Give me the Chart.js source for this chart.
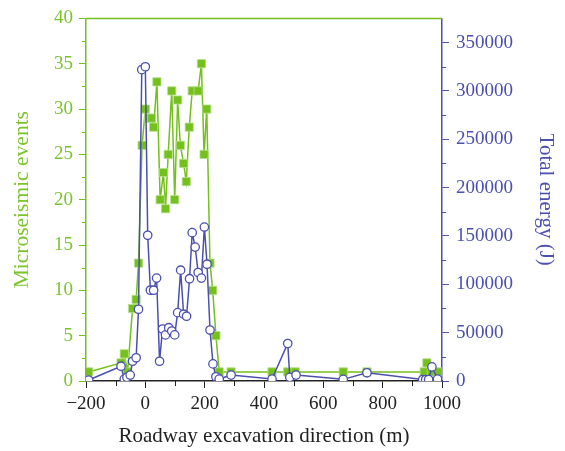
<!DOCTYPE html>
<html>
<head>
<meta charset="utf-8">
<script src="https://cdn.jsdelivr.net/npm/chart.js@4"></script>
<style>
html,body{margin:0;padding:0;background:#fff;}
#wrap{width:565px;height:451px;position:relative;}
</style>
</head>
<body>
<div id="wrap"><canvas id="c" width="565" height="451"></canvas></div>
<script>
// Microseismic events (left axis)
const eventsX = [-191, -82, -71, -60, -43, -31, -23, -11, 0, 11, 21, 28, 39, 50, 61, 68, 77, 89, 99, 109, 118, 129, 138, 148, 158, 178, 189, 198, 207, 218, 227, 238, 249, 289, 427, 480, 505, 667, 747, 940, 949, 964, 987];
const eventsY = [1, 2, 3, 1, 8, 9, 13, 26, 30, 29, 29, 28, 33, 20, 23, 19, 25, 32, 20, 31, 26, 24, 22, 28, 32, 32, 35, 25, 30, 13, 10, 5, 1, 1, 1, 1, 1, 1, 1, 1, 2, 1, 1];
// Total energy in J (right axis)
const energyX = [-191, -82, -71, -62, -51, -43, -31, -23, -12, 0, 8, 17, 28, 38, 48, 58, 68, 79, 89, 99, 109, 119, 129, 139, 149, 158, 168, 178, 189, 199, 208, 218, 228, 238, 249, 289, 427, 480, 487, 508, 667, 747, 935, 945, 955, 966, 985];
const energyY = [1000, 15300, 2000, 3800, 6100, 20400, 24000, 74200, 322000, 325000, 150700, 93900, 93900, 106400, 20400, 53800, 47700, 55100, 51700, 47700, 70700, 114600, 69100, 67000, 105800, 153400, 138500, 112200, 106400, 159200, 120700, 52700, 17700, 4400, 2000, 6100, 2000, 38800, 3800, 6100, 1700, 8500, 1500, 1500, 1500, 14600, 2000];
// Axis ticks
const xTicks = [-200, 0, 200, 400, 600, 800, 1000];
const leftTicks = [0, 5, 10, 15, 20, 25, 30, 35, 40];
const rightTicks = [0, 50000, 100000, 150000, 200000, 250000, 300000, 350000];

const GREEN = '#74c01c';
const GREEN_TXT = '#7cc42c';
const BLUE = '#4b4fae';
const FONT = "'Liberation Serif', 'DejaVu Serif', serif";

const toPts = (xs, ys) => xs.map((x, i) => ({x: x, y: ys[i]}));

const minorTicks = {
  id: 'minorTicks',
  afterDraw(chart) {
    const ctx = chart.ctx;
    const a = chart.chartArea;
    ctx.save();
    ctx.strokeStyle = GREEN;
    ctx.lineWidth = 1.5;
    ctx.beginPath();
    ctx.moveTo(a.left, a.top);
    ctx.lineTo(a.right, a.top);
    ctx.stroke();
    ctx.lineWidth = 1;
    const sx = chart.scales.x, sl = chart.scales.y, sr = chart.scales.y1;
    ctx.strokeStyle = '#222';
    for (let v = -100; v < 1000; v += 200) {
      const p = Math.round(sx.getPixelForValue(v)) + 0.5;
      ctx.beginPath(); ctx.moveTo(p, a.bottom); ctx.lineTo(p, a.bottom + 5); ctx.stroke();
    }
    ctx.strokeStyle = GREEN;
    for (let v = 2.5; v < 40; v += 5) {
      const p = Math.round(sl.getPixelForValue(v)) + 0.5;
      ctx.beginPath(); ctx.moveTo(a.left, p); ctx.lineTo(a.left - 4, p); ctx.stroke();
    }
    ctx.strokeStyle = BLUE;
    for (let v = 25000; v < 375000; v += 50000) {
      const p = Math.round(sr.getPixelForValue(v)) + 0.5;
      ctx.beginPath(); ctx.moveTo(a.right, p); ctx.lineTo(a.right + 4, p); ctx.stroke();
    }
    ctx.restore();
  }
};

new Chart(document.getElementById('c'), {
  type: 'scatter',
  data: {
    datasets: [
      {
        label: 'Total energy (J)',
        data: toPts(energyX, energyY),
        yAxisID: 'y1',
        showLine: true,
        borderColor: BLUE,
        borderWidth: 1.5,
        pointStyle: 'circle',
        pointRadius: 4.2,
        pointBorderWidth: 1.3,
        pointBorderColor: BLUE,
        pointBackgroundColor: '#ffffff',
        order: 0
      },
      {
        label: 'Microseismic events',
        data: toPts(eventsX, eventsY),
        yAxisID: 'y',
        showLine: true,
        borderColor: GREEN,
        borderWidth: 1.5,
        pointStyle: 'rect',
        pointRadius: 5.8,
        pointBorderWidth: 0.8,
        pointBorderColor: '#b6e08a',
        pointBackgroundColor: GREEN,
        order: 1
      }
    ]
  },
  options: {
    responsive: false,
    animation: false,
    devicePixelRatio: 1,
    layout: {padding: {top: 15, left: 0, right: 0, bottom: 0}},
    plugins: {legend: {display: false}, tooltip: {enabled: false}},
    scales: {
      x: {
        type: 'linear', position: 'bottom', min: -200, max: 1000,
        afterBuildTicks: s => { s.ticks = xTicks.map(v => ({value: v})); },
        afterFit: s => { s.height = 70; },
        border: {color: '#222', width: 1.5},
        grid: {drawOnChartArea: false, tickLength: 7, tickColor: '#222'},
        ticks: {color: '#222', padding: 5, maxRotation: 0, autoSkip: false,
          font: {family: FONT, size: 19},
          callback: v => String(v).replace('-', '\u2212')},
        title: {display: true, text: 'Roadway excavation direction (m)', color: '#222',
          font: {family: FONT, size: 21}, padding: {top: 0, bottom: 2}}
      },
      y: {
        type: 'linear', position: 'left', min: 0, max: 40,
        afterBuildTicks: s => { s.ticks = leftTicks.map(v => ({value: v})); },
        afterFit: s => { s.width = 86; },
        border: {color: GREEN, width: 1.5},
        grid: {drawOnChartArea: false, tickLength: 7, tickColor: GREEN},
        ticks: {color: GREEN_TXT, padding: 6, autoSkip: false, font: {family: FONT, size: 19},
          callback: v => String(v)},
        title: {display: true, text: 'Microseismic events', color: GREEN_TXT,
          font: {family: FONT, size: 21.5}, padding: {top: 9, bottom: 0}}
      },
      y1: {
        type: 'linear', position: 'right', min: 0, max: 375000,
        afterBuildTicks: s => { s.ticks = rightTicks.map(v => ({value: v})); },
        afterFit: s => { s.width = 123; },
        border: {color: BLUE, width: 1.5},
        grid: {drawOnChartArea: false, tickLength: 7, tickColor: BLUE},
        ticks: {color: BLUE, padding: 7, autoSkip: false, font: {family: FONT, size: 19},
          callback: v => String(v)},
        title: {display: true, text: 'Total energy (J)', color: BLUE,
          font: {family: FONT, size: 21}, padding: {top: 7, bottom: 0}}
      }
    }
  },
  plugins: [minorTicks]
});
</script>
</body>
</html>
